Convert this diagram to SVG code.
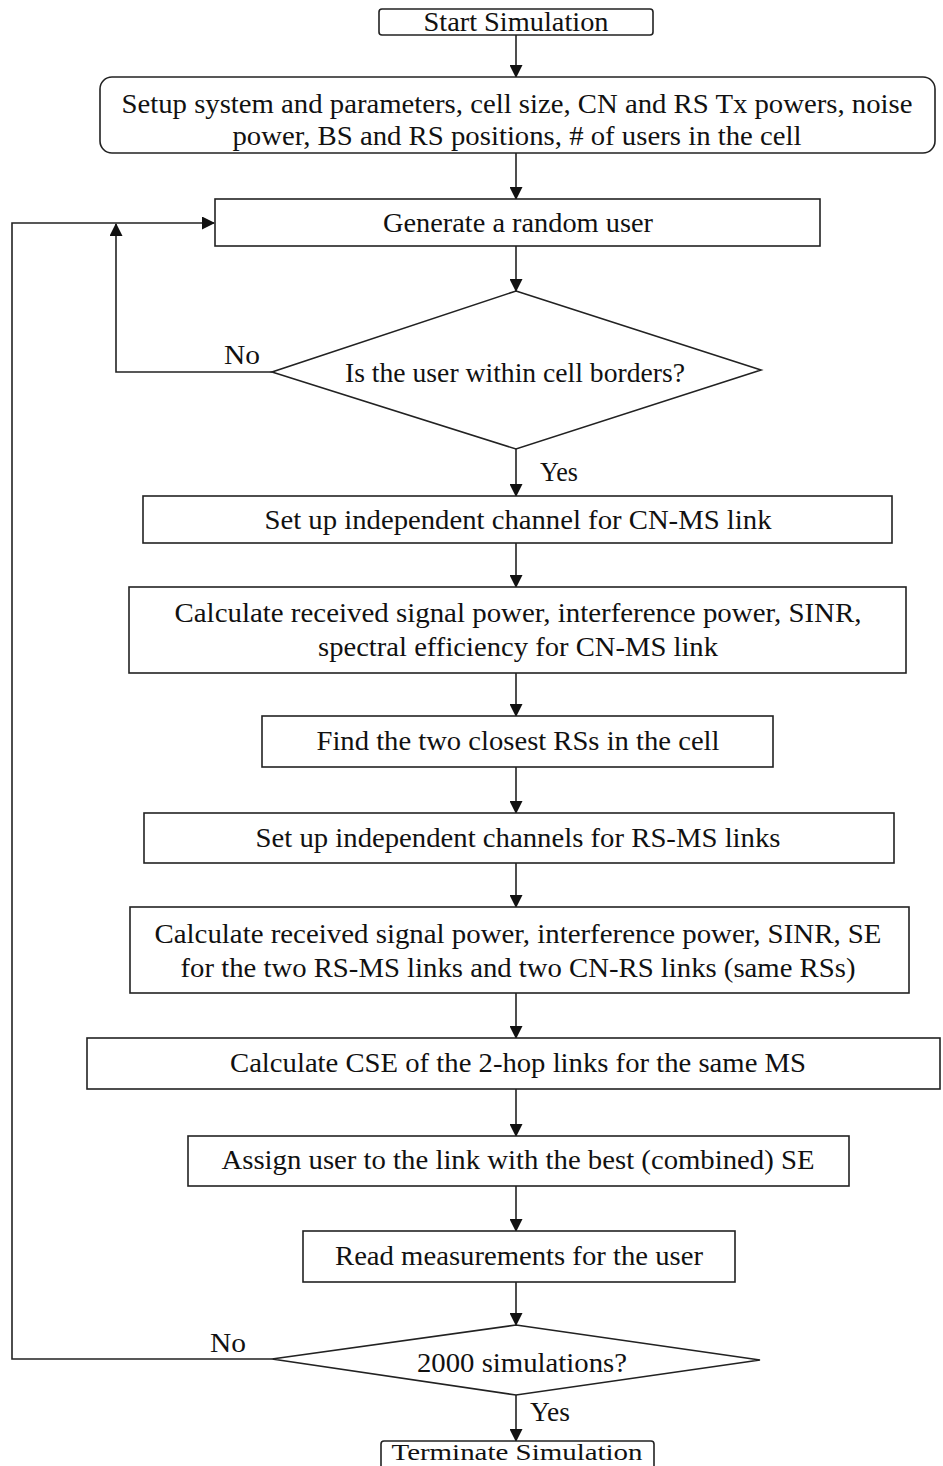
<svg xmlns="http://www.w3.org/2000/svg" width="943" height="1466" viewBox="0 0 943 1466">
<style>
.box{fill:#fff;stroke:#222;stroke-width:1.6}
.t{font-family:"Liberation Serif","Times New Roman",serif;font-size:27px;fill:#111;text-anchor:middle}
.l{font-family:"Liberation Serif","Times New Roman",serif;font-size:27px;fill:#111}
.c{fill:none;stroke:#222;stroke-width:1.6}
</style>
<defs>
<marker id="ah" markerWidth="13" markerHeight="13" refX="12" refY="6.5" orient="auto" markerUnits="userSpaceOnUse">
<path d="M0,0 L13,6.5 L0,13 Z" fill="#111"/>
</marker>
</defs>
<rect width="943" height="1466" fill="#fff"/>
<g id="connectors">
<line class="c" x1="516" y1="35" x2="516" y2="77" marker-end="url(#ah)"/>
<line class="c" x1="516" y1="153" x2="516" y2="199" marker-end="url(#ah)"/>
<line class="c" x1="516" y1="246" x2="516" y2="291" marker-end="url(#ah)"/>
<polyline class="c" points="272,372 116,372 116,224" marker-end="url(#ah)"/>
<polyline class="c" points="272,1359 12,1359 12,223 214,223" marker-end="url(#ah)"/>
<line class="c" x1="516" y1="449" x2="516" y2="496" marker-end="url(#ah)"/>
<line class="c" x1="516" y1="543" x2="516" y2="587" marker-end="url(#ah)"/>
<line class="c" x1="516" y1="673" x2="516" y2="716" marker-end="url(#ah)"/>
<line class="c" x1="516" y1="767" x2="516" y2="813" marker-end="url(#ah)"/>
<line class="c" x1="516" y1="863" x2="516" y2="907" marker-end="url(#ah)"/>
<line class="c" x1="516" y1="993" x2="516" y2="1038" marker-end="url(#ah)"/>
<line class="c" x1="516" y1="1089" x2="516" y2="1136" marker-end="url(#ah)"/>
<line class="c" x1="516" y1="1186" x2="516" y2="1231" marker-end="url(#ah)"/>
<line class="c" x1="516" y1="1282" x2="516" y2="1325" marker-end="url(#ah)"/>
<line class="c" x1="516" y1="1395" x2="516" y2="1441" marker-end="url(#ah)"/>
<text class="l" x="224" y="364" textLength="36" lengthAdjust="spacingAndGlyphs">No</text>
<text class="l" x="540" y="481" textLength="38" lengthAdjust="spacingAndGlyphs">Yes</text>
<text class="l" x="210" y="1352" textLength="36" lengthAdjust="spacingAndGlyphs">No</text>
<text class="l" x="530" y="1421" textLength="40" lengthAdjust="spacingAndGlyphs">Yes</text>
</g>
<g id="start">
<rect class="box" x="379" y="9" width="274" height="26" rx="3"/>
<text class="t" x="516" y="31" textLength="185" lengthAdjust="spacingAndGlyphs">Start Simulation</text>
</g>
<g id="setup">
<rect class="box" x="100" y="77" width="835" height="76" rx="12"/>
<text class="t" x="517" y="113" textLength="791" lengthAdjust="spacingAndGlyphs">Setup system and parameters, cell size, CN and RS Tx powers, noise</text>
<text class="t" x="517" y="145" textLength="569" lengthAdjust="spacingAndGlyphs">power, BS and RS positions, # of users in the cell</text>
</g>
<g id="generate">
<rect class="box" x="215" y="199" width="605" height="47"/>
<text class="t" x="518" y="232" textLength="270" lengthAdjust="spacingAndGlyphs">Generate a random user</text>
</g>
<g id="decision1">
<polygon class="box" points="516,291 761,370 516,449 272,372"/>
<text class="t" x="515" y="382" textLength="340" lengthAdjust="spacingAndGlyphs">Is the user within cell borders?</text>
</g>
<g id="cnms-channel">
<rect class="box" x="143" y="496" width="749" height="47"/>
<text class="t" x="518" y="529" textLength="507" lengthAdjust="spacingAndGlyphs">Set up independent channel for CN-MS link</text>
</g>
<g id="cnms-calc">
<rect class="box" x="129" y="587" width="777" height="86"/>
<text class="t" x="518" y="622" textLength="687" lengthAdjust="spacingAndGlyphs">Calculate received signal power, interference power, SINR,</text>
<text class="t" x="518" y="656" textLength="400" lengthAdjust="spacingAndGlyphs">spectral efficiency for CN-MS link</text>
</g>
<g id="find-rs">
<rect class="box" x="262" y="716" width="511" height="51"/>
<text class="t" x="518" y="750" textLength="403" lengthAdjust="spacingAndGlyphs">Find the two closest RSs in the cell</text>
</g>
<g id="rsms-channels">
<rect class="box" x="144" y="813" width="750" height="50"/>
<text class="t" x="518" y="847" textLength="525" lengthAdjust="spacingAndGlyphs">Set up independent channels for RS-MS links</text>
</g>
<g id="rsms-calc">
<rect class="box" x="130" y="907" width="779" height="86"/>
<text class="t" x="518" y="943" textLength="727" lengthAdjust="spacingAndGlyphs">Calculate received signal power, interference power, SINR, SE</text>
<text class="t" x="518" y="977" textLength="675" lengthAdjust="spacingAndGlyphs">for the two RS-MS links and two CN-RS links (same RSs)</text>
</g>
<g id="cse">
<rect class="box" x="87" y="1038" width="853" height="51"/>
<text class="t" x="518" y="1072" textLength="576" lengthAdjust="spacingAndGlyphs">Calculate CSE of the 2-hop links for the same MS</text>
</g>
<g id="assign">
<rect class="box" x="188" y="1136" width="661" height="50"/>
<text class="t" x="518" y="1169" textLength="593" lengthAdjust="spacingAndGlyphs">Assign user to the link with the best (combined) SE</text>
</g>
<g id="read">
<rect class="box" x="303" y="1231" width="432" height="51"/>
<text class="t" x="519" y="1265" textLength="368" lengthAdjust="spacingAndGlyphs">Read measurements for the user</text>
</g>
<g id="decision2">
<polygon class="box" points="516,1325 760,1360 516,1395 272,1359"/>
<text class="t" x="522" y="1372" textLength="210" lengthAdjust="spacingAndGlyphs">2000 simulations?</text>
</g>
<g id="terminate">
<rect class="box" x="381" y="1441" width="273" height="30" rx="3"/>
<text class="t" x="517" y="1460" style="font-size:24px" textLength="251" lengthAdjust="spacingAndGlyphs">Terminate Simulation</text>
</g>
</svg>
